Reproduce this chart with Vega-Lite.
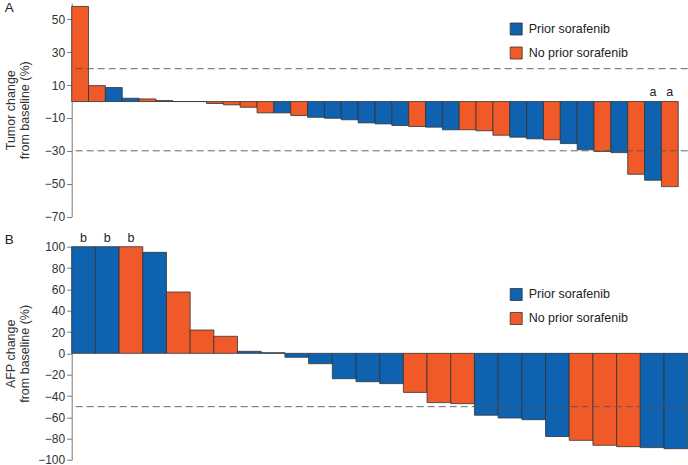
{
  "$schema": "https://vega.github.io/schema/vega-lite/v6.json",
  "padding": {"left": 4.7, "top": 0, "right": 0, "bottom": 0},
  "config": {
    "font": "Liberation Sans",
    "view": {"stroke": null},
    "axis": {
      "domainColor": "#777",
      "tickColor": "#777",
      "tickSize": 5,
      "labelFontSize": 12,
      "labelColor": "#333",
      "labelPadding": 2,
      "titleFontSize": 12.5,
      "titleFontWeight": "normal",
      "titleColor": "#333",
      "titleLineHeight": 13.5,
      "grid": false
    },
    "legend": {
      "orient": "none",
      "title": null,
      "padding": 0,
      "symbolType": "square",
      "symbolSize": 144,
      "symbolStrokeColor": "#333",
      "symbolStrokeWidth": 0.8,
      "symbolOpacity": 1,
      "labelFontSize": 12.5,
      "labelColor": "#222",
      "labelOffset": 6,
      "rowPadding": 7
    },
    "title": {"fontSize": 13.5, "fontWeight": "normal", "color": "#222", "anchor": "start", "frame": "bounds", "baseline": "alphabetic"}
  },
  "datasets": {
    "tumor": [
      {"id": 1, "group": "No prior sorafenib", "value": 57.9},
      {"id": 2, "group": "No prior sorafenib", "value": 9.7},
      {"id": 3, "group": "Prior sorafenib", "value": 8.5},
      {"id": 4, "group": "Prior sorafenib", "value": 2.0},
      {"id": 5, "group": "No prior sorafenib", "value": 1.6},
      {"id": 6, "group": "Prior sorafenib", "value": 0.6},
      {"id": 7, "group": "Prior sorafenib", "value": 0},
      {"id": 8, "group": "No prior sorafenib", "value": 0},
      {"id": 9, "group": "No prior sorafenib", "value": -1.2},
      {"id": 10, "group": "No prior sorafenib", "value": -2.0},
      {"id": 11, "group": "No prior sorafenib", "value": -3.5},
      {"id": 12, "group": "No prior sorafenib", "value": -6.9},
      {"id": 13, "group": "Prior sorafenib", "value": -6.9},
      {"id": 14, "group": "No prior sorafenib", "value": -8.5},
      {"id": 15, "group": "Prior sorafenib", "value": -9.6},
      {"id": 16, "group": "Prior sorafenib", "value": -10.2},
      {"id": 17, "group": "Prior sorafenib", "value": -11.1},
      {"id": 18, "group": "Prior sorafenib", "value": -13.0},
      {"id": 19, "group": "Prior sorafenib", "value": -13.6},
      {"id": 20, "group": "Prior sorafenib", "value": -14.6},
      {"id": 21, "group": "No prior sorafenib", "value": -15.2},
      {"id": 22, "group": "Prior sorafenib", "value": -15.6},
      {"id": 23, "group": "Prior sorafenib", "value": -17.2},
      {"id": 24, "group": "No prior sorafenib", "value": -17.2},
      {"id": 25, "group": "No prior sorafenib", "value": -17.8},
      {"id": 26, "group": "No prior sorafenib", "value": -20.5},
      {"id": 27, "group": "Prior sorafenib", "value": -21.7},
      {"id": 28, "group": "Prior sorafenib", "value": -22.7},
      {"id": 29, "group": "No prior sorafenib", "value": -23.3},
      {"id": 30, "group": "Prior sorafenib", "value": -25.6},
      {"id": 31, "group": "Prior sorafenib", "value": -29.4},
      {"id": 32, "group": "No prior sorafenib", "value": -30.4},
      {"id": 33, "group": "Prior sorafenib", "value": -31.1},
      {"id": 34, "group": "No prior sorafenib", "value": -44.3},
      {"id": 35, "group": "Prior sorafenib", "value": -47.9, "note": "a"},
      {"id": 36, "group": "No prior sorafenib", "value": -51.8, "note": "a"}
    ],
    "afp": [
      {"id": 1, "group": "Prior sorafenib", "value": 100, "note": "b"},
      {"id": 2, "group": "Prior sorafenib", "value": 100, "note": "b"},
      {"id": 3, "group": "No prior sorafenib", "value": 100, "note": "b"},
      {"id": 4, "group": "Prior sorafenib", "value": 94.7},
      {"id": 5, "group": "No prior sorafenib", "value": 57.5},
      {"id": 6, "group": "No prior sorafenib", "value": 21.9},
      {"id": 7, "group": "No prior sorafenib", "value": 16},
      {"id": 8, "group": "Prior sorafenib", "value": 1.9},
      {"id": 9, "group": "Prior sorafenib", "value": 0.6},
      {"id": 10, "group": "Prior sorafenib", "value": -3.7},
      {"id": 11, "group": "Prior sorafenib", "value": -9.7},
      {"id": 12, "group": "Prior sorafenib", "value": -23.8},
      {"id": 13, "group": "Prior sorafenib", "value": -26.6},
      {"id": 14, "group": "Prior sorafenib", "value": -28.4},
      {"id": 15, "group": "No prior sorafenib", "value": -36.6},
      {"id": 16, "group": "No prior sorafenib", "value": -46.2},
      {"id": 17, "group": "No prior sorafenib", "value": -47.2},
      {"id": 18, "group": "Prior sorafenib", "value": -58},
      {"id": 19, "group": "Prior sorafenib", "value": -60.6},
      {"id": 20, "group": "Prior sorafenib", "value": -62.2},
      {"id": 21, "group": "Prior sorafenib", "value": -78},
      {"id": 22, "group": "No prior sorafenib", "value": -81.6},
      {"id": 23, "group": "No prior sorafenib", "value": -86.2},
      {"id": 24, "group": "No prior sorafenib", "value": -87.5},
      {"id": 25, "group": "Prior sorafenib", "value": -88.4},
      {"id": 26, "group": "Prior sorafenib", "value": -89.4}
    ]
  },
  "resolve": {"legend": {"color": "independent"}},
  "spacing": 8.7,
  "vconcat": [
    {
      "width": 616,
      "height": 213.5,
      "title": {"text": "A", "offset": -11},
      "layer": [
        {
          "data": {"name": "tumor"},
          "mark": {"type": "bar", "stroke": "#333", "strokeWidth": 0.8},
          "encoding": {
            "x": {"field": "id", "type": "ordinal", "axis": null, "scale": {"paddingInner": 0, "paddingOuter": 0.28, "align": 0}},
            "y": {
              "field": "value",
              "type": "quantitative",
              "scale": {"domain": [-70, 60], "nice": false, "zero": false},
              "axis": {
                "values": [-70, -50, -30, -10, 10, 30, 50],
                "tickCount": 20,
                "labelOverlap": false,
                "title": ["Tumor change", "from baseline (%)"],
                "titleX": -54,
                "titleBaseline": "bottom"
              }
            },
            "color": {
              "field": "group",
              "type": "nominal",
              "scale": {"domain": ["Prior sorafenib", "No prior sorafenib"], "range": ["#0f62b0", "#f05a28"]},
              "legend": {"legendX": 438, "legendY": 19.5}
            }
          }
        },
        {
          "data": {"name": "tumor"},
          "transform": [{"filter": "datum.note != null"}],
          "mark": {"type": "text", "baseline": "bottom", "dy": -3, "fontSize": 12.5, "color": "#222"},
          "encoding": {
            "x": {"field": "id", "type": "ordinal"},
            "y": {"datum": 0},
            "text": {"field": "note"}
          }
        },
        {
          "data": {"values": [{"ref": 20}, {"ref": -30}]},
          "mark": {"type": "rule", "strokeDash": [7, 4], "color": "#555", "strokeWidth": 0.9},
          "encoding": {"y": {"field": "ref", "type": "quantitative"}}
        }
      ]
    },
    {
      "width": 616,
      "height": 213.3,
      "title": {"text": "B", "offset": -14.5},
      "layer": [
        {
          "data": {"name": "afp"},
          "mark": {"type": "bar", "stroke": "#333", "strokeWidth": 0.8},
          "encoding": {
            "x": {"field": "id", "type": "ordinal", "axis": null, "scale": {"paddingInner": 0, "paddingOuter": 0}},
            "y": {
              "field": "value",
              "type": "quantitative",
              "scale": {"domain": [-100, 100], "nice": false, "zero": false},
              "axis": {
                "values": [-100, -80, -60, -40, -20, 0, 20, 40, 60, 80, 100],
                "tickCount": 20,
                "labelOverlap": false,
                "title": ["AFP change", "from baseline (%)"],
                "titleX": -54,
                "titleBaseline": "bottom"
              }
            },
            "color": {
              "field": "group",
              "type": "nominal",
              "scale": {"domain": ["Prior sorafenib", "No prior sorafenib"], "range": ["#0f62b0", "#f05a28"]},
              "legend": {"legendX": 438, "legendY": 41.3}
            }
          }
        },
        {
          "data": {"name": "afp"},
          "transform": [{"filter": "datum.note != null"}],
          "mark": {"type": "text", "baseline": "bottom", "dy": -2, "fontSize": 12.5, "color": "#222"},
          "encoding": {
            "x": {"field": "id", "type": "ordinal"},
            "y": {"field": "value", "type": "quantitative"},
            "text": {"field": "note"}
          }
        },
        {
          "data": {"values": [{"ref": -50}]},
          "mark": {"type": "rule", "strokeDash": [7, 4], "color": "#555", "strokeWidth": 0.9},
          "encoding": {"y": {"field": "ref", "type": "quantitative"}}
        }
      ]
    }
  ]
}
